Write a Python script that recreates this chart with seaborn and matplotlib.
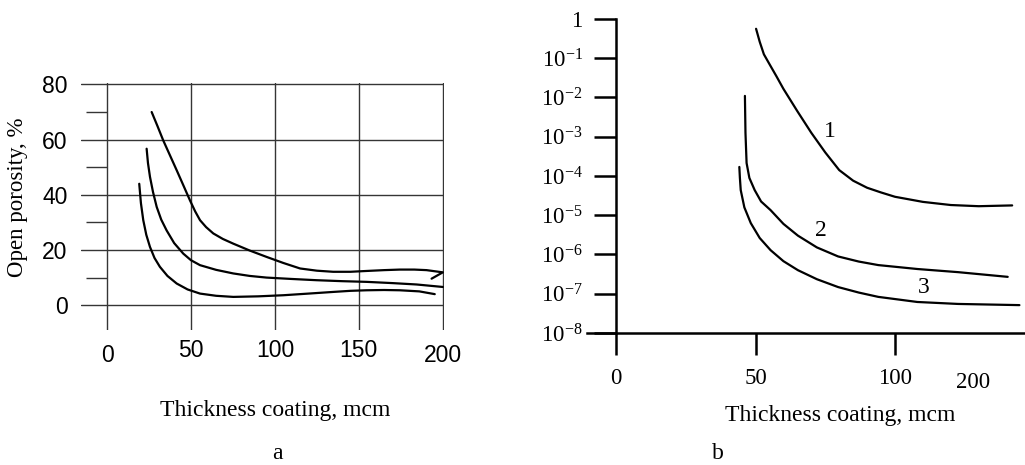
import numpy as np
import pandas as pd
import matplotlib
matplotlib.use("Agg")
import matplotlib.pyplot as plt
import matplotlib.transforms as mtransforms
from matplotlib.ticker import FixedLocator, FixedFormatter, NullLocator
import seaborn as sns

# ---- panel a : open porosity (%) vs thickness (mcm)
a_top_x = [26.6, 30, 33.5, 37.5, 41.5, 45.5, 49.4, 52.5, 55.4, 59, 63.3, 69, 75.2, 85, 95, 105,
           115, 125, 134.7, 145, 154.6, 165, 174.4, 183, 190.3, 200, 193.3]
a_top_y = [70.0, 65.0, 59.7, 54.3, 48.9, 43.4, 38.0, 34.0, 30.8, 28.3, 26.0, 24.0, 22.3, 19.8, 17.5, 15.3,
           13.3, 12.5, 12.1, 12.1, 12.4, 12.7, 12.9, 12.9, 12.7, 11.9, 9.6]

a_mid_x = [23.6, 24.4, 25.6, 27.4, 29.6, 32.3, 35.5, 40, 45.4, 50, 55.4, 65, 75.2, 85, 95, 110,
           124.8, 140, 154.6, 170, 184.4, 200]
a_mid_y = [56.7, 51.5, 46.5, 41.0, 35.6, 31.0, 27.1, 22.5, 18.7, 16.3, 14.5, 12.8, 11.5, 10.6, 10.0, 9.5,
           9.05, 8.7, 8.45, 8.0, 7.5, 6.6]

a_low_x = [19.2, 20.2, 21.6, 23.4, 25.6, 28.3, 31.5, 36, 41.5, 48, 55.4, 65, 75.2, 90, 105, 120,
           134.7, 145, 154.6, 165, 174.4, 186, 195.2]
a_low_y = [44.0, 37.0, 30.8, 25.5, 21.1, 17.1, 13.9, 10.6, 7.85, 5.7, 4.2, 3.4, 3.0, 3.2, 3.6, 4.2,
           4.8, 5.2, 5.4, 5.5, 5.4, 5.0, 4.0]

a_xticks = [0, 50, 100, 150, 200]
a_yticks = [0, 20, 40, 60, 80]
a_yminor = [10, 30, 50, 70]

b1_x = [50.2, 51.5, 53.0, 55.0, 57.5, 60, 65, 70, 75, 80, 85, 90, 95, 100, 110, 120, 130, 142]
b1_log = [-0.25, -0.58, -0.90, -1.15, -1.46, -1.78, -2.35, -2.90, -3.40, -3.85, -4.12, -4.30, -4.42,
          -4.53, -4.66, -4.74, -4.77, -4.75]

b2_x = [46.2, 46.4, 46.8, 47.8, 49.7, 52, 55.4, 60, 65.2, 72, 79.6, 87, 94, 108, 122.6, 140.4]
b2_log = [-1.96, -2.9, -3.67, -4.05, -4.36, -4.65, -4.87, -5.22, -5.52, -5.82, -6.05, -6.18, -6.27,
          -6.37, -6.45, -6.57]

b3_x = [44.2, 44.4, 44.7, 46.0, 48.3, 51.5, 55.4, 60, 65.2, 72, 79.6, 87, 94, 108, 122.6, 144.6]
b3_log = [-3.77, -4.05, -4.36, -4.80, -5.20, -5.58, -5.89, -6.17, -6.40, -6.63, -6.83, -6.97, -7.08,
          -7.21, -7.26, -7.29]

b_curve_names = ["1", "2", "3"]
b_name_x = [76.5, 73.6, 110.4]
b_name_log = [-2.87, -5.38, -6.83]

b_yticks = [1e-8, 1e-7, 1e-6, 1e-5, 1e-4, 1e-3, 1e-2, 1e-1, 1]
b_ylabels = [r"$\mathregular{10^{-8}}$", r"$\mathregular{10^{-7}}$", r"$\mathregular{10^{-6}}$",
             r"$\mathregular{10^{-5}}$", r"$\mathregular{10^{-4}}$", r"$\mathregular{10^{-3}}$",
             r"$\mathregular{10^{-2}}$", r"$\mathregular{10^{-1}}$", "1"]
b_xticks = [0, 50, 100]
b_xlabels = ["0", "50", "100"]
b_extra_x = [128]          # the stray "200" label, without a tick mark
b_extra_label = ["200"]

sns.set_theme(style="white")
plt.rcParams["font.family"] = ["Liberation Serif", "DejaVu Serif"]
plt.rcParams["text.color"] = "black"
plt.rcParams["axes.labelcolor"] = "black"
plt.rcParams["mathtext.fontset"] = "custom"
plt.rcParams["mathtext.rm"] = "Liberation Serif"
plt.rcParams["mathtext.it"] = "Liberation Serif:italic"
plt.rcParams["mathtext.default"] = "regular"

SERIF = "Liberation Serif"
SANS = "Liberation Sans"
GRID = "#353535"

fig = plt.figure(figsize=(10.25, 4.65), dpi=100)
ax_a = fig.add_axes([0.0790, 0.2903, 0.3540, 0.5305])
ax_b = fig.add_axes([0.5727, 0.2839, 0.4273, 0.6753])

# ---------------- panel a
df_a = pd.concat([
    pd.DataFrame({"x": a_top_x, "y": a_top_y, "c": "top"}),
    pd.DataFrame({"x": a_mid_x, "y": a_mid_y, "c": "mid"}),
    pd.DataFrame({"x": a_low_x, "y": a_low_y, "c": "low"}),
])
sns.lineplot(data=df_a, x="x", y="y", units="c", estimator=None, sort=False,
             color="black", lw=1.6, ax=ax_a)
ax_a.set_xlim(-15.5, 200.6)
ax_a.set_ylim(-9, 80.4)
ax_a.xaxis.set_major_locator(FixedLocator(a_xticks))
ax_a.yaxis.set_major_locator(FixedLocator(a_yticks))
ax_a.yaxis.set_minor_locator(FixedLocator(a_yminor))
ax_a.grid(True, which="major", color=GRID, lw=1.0)
for s in ax_a.spines.values():
    s.set_visible(False)
ax_a.spines["left"].set_position(("data", 0))
ax_a.tick_params(axis="both", which="major", length=0, labelsize=16.5,
                 labelfontfamily=SANS, labelcolor="black")
ax_a.tick_params(axis="y", which="major", pad=28.5)
ax_a.tick_params(axis="x", which="major", pad=6.5)
ax_a.tick_params(axis="y", which="minor", left=True, direction="out", length=15,
                 width=1.0, color=GRID)
labs = ax_a.get_xticklabels()
for i in (0, 4):
    labs[i].set_transform(labs[i].get_transform() +
                          mtransforms.ScaledTranslation(0, -5 / 100, fig.dpi_scale_trans))
ax_a.set_xlabel("Thickness coating, mcm", fontsize=17, family=SERIF)
ax_a.xaxis.set_label_coords(0.536, -0.283)
ax_a.set_ylabel("Open porosity, %", fontsize=16.5, family=SERIF)
ax_a.yaxis.set_label_coords(-0.147, 0.537)

# ---------------- panel b
df_b = pd.concat([
    pd.DataFrame({"x": b1_x, "y": 10.0 ** np.array(b1_log), "c": "1"}),
    pd.DataFrame({"x": b2_x, "y": 10.0 ** np.array(b2_log), "c": "2"}),
    pd.DataFrame({"x": b3_x, "y": 10.0 ** np.array(b3_log), "c": "3"}),
])
sns.lineplot(data=df_b, x="x", y="y", units="c", estimator=None, sort=False,
             color="black", lw=1.6, ax=ax_b)
ax_b.set_yscale("log")
ax_b.set_xlim(-10.4, 146.6)
ax_b.set_ylim(1e-8, 1)
ax_b.yaxis.set_major_locator(FixedLocator(b_yticks))
ax_b.yaxis.set_major_formatter(FixedFormatter(b_ylabels))
ax_b.yaxis.set_minor_locator(NullLocator())
ax_b.xaxis.set_major_locator(FixedLocator(b_xticks))
ax_b.xaxis.set_major_formatter(FixedFormatter(b_xlabels))
ax_b.xaxis.set_minor_locator(FixedLocator(b_extra_x))
ax_b.xaxis.set_minor_formatter(FixedFormatter(b_extra_label))
ax_b.grid(False)
ax_b.spines["top"].set_visible(False)
ax_b.spines["right"].set_visible(False)
ax_b.spines["left"].set_position(("data", 0))
for s in ("left", "bottom"):
    ax_b.spines[s].set_linewidth(1.8)
    ax_b.spines[s].set_color("black")
ax_b.tick_params(axis="both", which="major", direction="out", length=16, width=1.8,
                 color="black", labelsize=16.5, labelfontfamily=SERIF, labelcolor="black",
                 left=True, bottom=True)
ax_b.tick_params(axis="y", which="major", pad=8)
ax_b.tick_params(axis="x", which="major", pad=9)
ax_b.tick_params(axis="x", which="minor", bottom=True, length=16, width=0, pad=12,
                 labelsize=16.5, labelfontfamily=SERIF, labelcolor="black")
for name, x, lg in zip(b_curve_names, b_name_x, b_name_log):
    ax_b.text(x, 10.0 ** lg, name, fontsize=17, family=SERIF, ha="center", va="center")
ax_b.set_xlabel("Thickness coating, mcm", fontsize=17, family=SERIF)
ax_b.xaxis.set_label_coords(0.578, -0.23)
ax_b.set_ylabel("")

fig.text(277 / 1025, 1 - 453 / 465, "a", fontsize=17, family=SERIF, ha="center", va="center")
fig.text(718 / 1025, 1 - 453 / 465, "b", fontsize=17, family=SERIF, ha="center", va="center")

fig.savefig("out.png", dpi=100)
